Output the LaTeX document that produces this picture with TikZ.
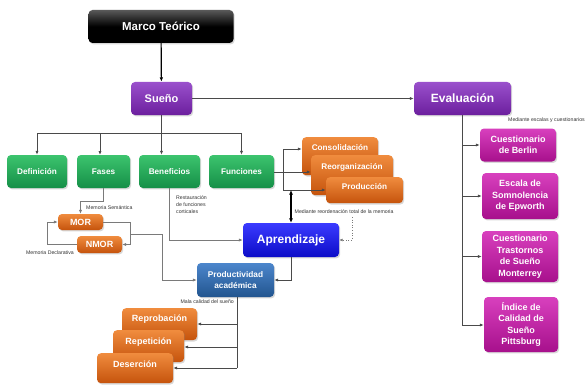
\documentclass[tikz,border=0pt]{standalone}
\usepackage{fontspec}
\setmainfont{Liberation Sans}
\usetikzlibrary{arrows.meta,shadows}

\definecolor{linegray}{HTML}{4A4A4A}
\definecolor{softgray}{HTML}{7A7A7A}
\definecolor{purpleTop}{HTML}{9A50CC}
\definecolor{purpleBot}{HTML}{6C1F9E}
\definecolor{greenTop}{HTML}{3CC46E}
\definecolor{greenBot}{HTML}{158F47}
\definecolor{orangeTop}{HTML}{F08C3E}
\definecolor{orangeBot}{HTML}{C5530C}
\definecolor{magentaTop}{HTML}{D840BE}
\definecolor{magentaBot}{HTML}{A7108C}
\definecolor{blueTop}{HTML}{3B3BFF}
\definecolor{blueBot}{HTML}{0C0CC8}
\definecolor{steelTop}{HTML}{4C86CC}
\definecolor{steelBot}{HTML}{22558F}

\tikzset{
  box/.style={rounded corners=4pt, text=white, align=center, inner sep=0pt,
    font=\bfseries\fontsize{9}{11.5}\selectfont,
    drop shadow={opacity=0.3, shadow xshift=1.2pt, shadow yshift=-1.4pt}},
  blackbox/.style={box, top color=black!65, bottom color=black, middle color=black,
    font=\bfseries\fontsize{11.5}{13}\selectfont},
  purplebox/.style={box, top color=purpleTop, bottom color=purpleBot,
    font=\bfseries\fontsize{11}{13}\selectfont},
  greenbox/.style={box, top color=greenTop, bottom color=greenBot,
    font=\bfseries\fontsize{8.2}{10}\selectfont},
  orangebox/.style={box, top color=orangeTop, bottom color=orangeBot,
    font=\bfseries\fontsize{8.2}{10}\selectfont, inner ysep=4pt},
  magentabox/.style={box, top color=magentaTop, bottom color=magentaBot},
  bluebox/.style={box, top color=blueTop, bottom color=blueBot,
    font=\bfseries\fontsize{12}{14}\selectfont},
  steelbox/.style={box, top color=steelTop, bottom color=steelBot,
    font=\bfseries\fontsize{8.3}{11}\selectfont},
  note/.style={font=\fontsize{5.2}{7.2}\selectfont, text=black!80, inner sep=0pt},
  conn/.style={draw=linegray, line width=0.8pt},
  arr/.style={conn, -{Latex[length=4pt,width=3.2pt]}},
  softarr/.style={draw=softgray, line width=0.7pt, -{Latex[length=4pt,width=3.2pt]}},
}

\begin{document}
\begin{tikzpicture}[x=1pt, y=-1pt]
\useasboundingbox[fill=white] (0,0) rectangle (588,385);

% top of the tree
\node[blackbox, minimum width=145pt, minimum height=33pt] (marco) at (161,26.5) {Marco Teórico};
\node[purplebox, minimum width=61pt, minimum height=33pt] (sueno) at (161.5,98.5) {Sueño};
\node[purplebox, minimum width=97pt, minimum height=33pt, font=\bfseries\fontsize{12}{14}\selectfont] (eval) at (462.5,98.5) {Evaluación};

% second level
\node[greenbox, minimum width=60pt, minimum height=33pt] (defin) at (37,171.5) {Definición};
\node[greenbox, minimum width=53pt, minimum height=33pt] (fases) at (103.5,171.5) {Fases};
\node[greenbox, minimum width=61pt, minimum height=33pt] (benef) at (169.5,171.5) {Beneficios};
\node[greenbox, minimum width=65pt, minimum height=33pt] (func) at (241.5,171.5) {Funciones};

% functions of sleep (stacked)
\node[orangebox, anchor=north, minimum width=76pt, text height=9pt, text depth=21pt] (consol) at (340,137) {Consolidación};
\node[orangebox, anchor=north, minimum width=82pt, text height=10pt, text depth=22pt] (reorg) at (352,155) {Reorganización};
\node[orangebox, anchor=north, minimum width=77pt, text height=8pt, text depth=10pt] (produc) at (364.5,177) {Producción};

% learning and productivity
\node[bluebox, minimum width=96pt, minimum height=34pt] (aprend) at (291,240) {Aprendizaje};
\node[steelbox, minimum width=77pt, minimum height=34pt] (prodac) at (235.5,280) {Productividad\\académica};

% memory
\node[orangebox, inner ysep=0pt, minimum width=45pt, minimum height=16pt, font=\bfseries\fontsize{9}{10}\selectfont] (mor) at (80.5,222) {MOR};
\node[orangebox, inner ysep=0pt, minimum width=45pt, minimum height=17pt, font=\bfseries\fontsize{9}{10}\selectfont] (nmor) at (99.5,244.5) {NMOR};

% consequences (stacked)
\node[orangebox, anchor=north, minimum width=75pt, text height=9pt, text depth=15pt, font=\bfseries\fontsize{9}{10}\selectfont] (reprob) at (159.5,308) {Reprobación};
\node[orangebox, anchor=north, minimum width=71pt, text height=10pt, text depth=14pt, font=\bfseries\fontsize{9}{10}\selectfont] (repet) at (148.5,330) {Repetición};
\node[orangebox, anchor=north, minimum width=76pt, text height=10pt, text depth=12pt, font=\bfseries\fontsize{9}{10}\selectfont] (deser) at (135,353) {Deserción};

% evaluation instruments
\node[magentabox, minimum width=76pt, minimum height=33pt] (berlin) at (518,145) {Cuestionario\\de Berlin};
\node[magentabox, minimum width=76pt, minimum height=46pt] (epworth) at (520,196) {Escala de\\Somnolencia\\de Epworth};
\node[magentabox, minimum width=76pt, minimum height=51pt] (monte) at (520,256.5) {Cuestionario\\Trastornos\\de Sueño\\Monterrey};
\node[magentabox, minimum width=74pt, minimum height=55pt] (pitts) at (521,324.5) {Índice de\\Calidad de\\Sueño\\Pittsburg};

% notes
\node[note, anchor=west] (nEscalas) at (508,120) {Mediante escalas y cuestionarios};
\node[note, anchor=west] (nReord) at (294.5,211.5) {Mediante reordenación total de la memoria};
\node[note, anchor=north west, align=left] (nRest) at (176,195) {Restauración\\de funciones\\corticales};
\node[note, anchor=west] (nSem) at (86,208) {Memoria Semántica};
\node[note, anchor=east] (nDecl) at (74,252.5) {Memoria Declarativa};
\node[note, anchor=east] (nMala) at (234,302) {Mala calidad del sueño};

% connectors: top
\draw[conn, line width=1.2pt, draw=black, -{Latex[length=4.5pt,width=3.6pt]}] (marco) -- (sueno);
\draw[arr] (sueno.east) -- (eval.west);

% Sueño to its four branches
\coordinate (bar) at (161.5,133.5);
\draw[conn] (sueno.south) -- (bar);
\draw[conn] (37,133.5) -- (242,133.5);
\draw[arr] (defin.north |- bar) -- (defin.north);
\draw[arr] (100,133.5) -- (100,155);
\draw[arr] (bar) -- (bar |- benef.north);
\draw[arr] (func.north |- bar) -- (func.north);

% Funciones to its three outcomes
\coordinate (fb) at (283,172);
\draw[conn] (func.east |- fb) -- (fb);
\draw[conn] (283,149) -- (283,190);
\draw[arr] (283,149) -- (consol.west |- 0,149);
\draw[arr] (fb) -- (reorg.west |- fb);
\draw[arr] (283,190) -- (produc.west |- 0,190);

% Funciones <-> Aprendizaje
\coordinate (fl) at (291,190);
\draw[draw=black, line width=1.5pt, {Latex[length=4.5pt,width=4pt]}-{Latex[length=4.5pt,width=4pt]}] (fl) -- (aprend.north);
\coordinate (dotstart) at (352,217);
\draw[draw=softgray, line width=0.6pt, dotted, -{Latex[length=3.5pt,width=3pt]}] (dotstart) |- (aprend.east);

% Beneficios to Aprendizaje, Aprendizaje to Productividad
\draw[softarr] (benef.south) |- (aprend.west);
\draw[arr] (aprend.south) |- (prodac.east);

% memory loop
\draw[softarr] (fases.south) -- ++(0,13) -| (mor.north);
\draw[softarr] (nmor.west) -- ++(-29,0) |- (mor.west);
\draw[softarr] (mor.east) -- ++(27,0) |- (nmor.east);
\coordinate (mj) at (130,234);
\draw[softarr] (mj) -- (162,234) |- (prodac.west);

% Productividad to its consequences
\coordinate (c1) at (237,324);
\coordinate (c2) at (237,347);
\coordinate (c3) at (237,368);
\draw[conn] (prodac.south -| c1) -- (c3);
\draw[arr] (c1) -- (c1 -| reprob.east);
\draw[arr] (c2) -- (c2 -| repet.east);
\draw[arr] (c3) -- (c3 -| deser.east);

% Evaluación to its instruments
\coordinate (ev) at (462,325);
\draw[conn] (eval.south -| ev) -- (ev);
\draw[arr] (ev |- berlin.west) -- (berlin.west);
\draw[arr] (ev |- epworth.west) -- (epworth.west);
\draw[arr] (ev |- monte.west) -- (monte.west);
\draw[arr] (ev) -- (ev -| pitts.west);
\end{tikzpicture}
\end{document}
